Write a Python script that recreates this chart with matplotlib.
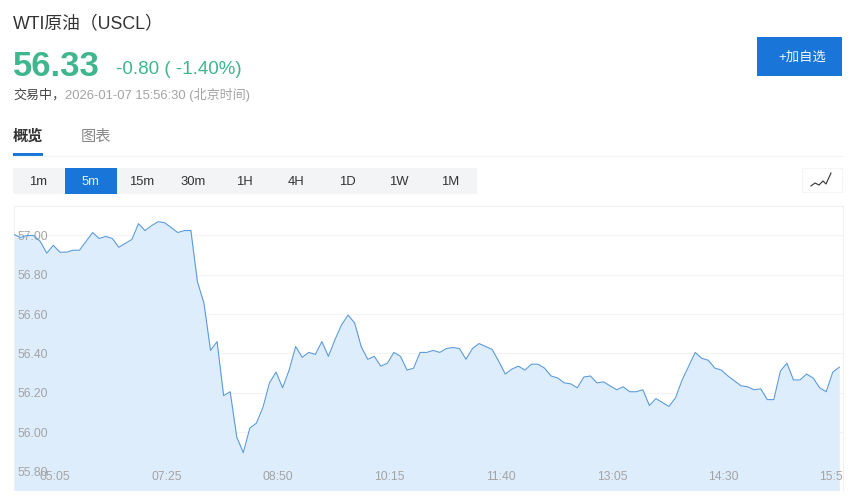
import matplotlib
matplotlib.use('Agg')
import matplotlib.pyplot as plt
import numpy as np
from matplotlib.patches import Rectangle

plt.rcParams['font.family'] = ['Liberation Sans', 'Noto Sans CJK SC']

PRICES = [
    57.005, 56.99, 57.00, 57.00, 56.97, 56.91, 56.95, 56.915, 56.915, 56.925,
    56.925, 56.97, 57.015, 56.985, 56.995, 56.985, 56.94, 56.96, 56.98, 57.06,
    57.025, 57.05, 57.07, 57.065, 57.04, 57.015, 57.025, 57.025, 56.765, 56.655,
    56.415, 56.46, 56.185, 56.205, 55.975, 55.895, 56.02, 56.045, 56.125, 56.25,
    56.305, 56.225, 56.315, 56.435, 56.38, 56.405, 56.395, 56.46, 56.385, 56.47,
    56.545, 56.595, 56.555, 56.435, 56.37, 56.385, 56.335, 56.35, 56.405, 56.385,
    56.315, 56.325, 56.405, 56.405, 56.415, 56.405, 56.425, 56.43, 56.425, 56.37,
    56.425, 56.45, 56.435, 56.42, 56.36, 56.295, 56.32, 56.335, 56.315, 56.345,
    56.345, 56.325, 56.285, 56.275, 56.25, 56.245, 56.225, 56.28, 56.285, 56.25,
    56.255, 56.235, 56.215, 56.23, 56.205, 56.205, 56.215, 56.135, 56.17, 56.15,
    56.13, 56.175, 56.265, 56.335, 56.405, 56.375, 56.365, 56.325, 56.315, 56.285,
    56.26, 56.235, 56.23, 56.215, 56.22, 56.165, 56.165, 56.31, 56.35, 56.265,
    56.265, 56.295, 56.275, 56.225, 56.205, 56.305, 56.33,
]
Y_TICKS = [55.80, 56.00, 56.20, 56.40, 56.60, 56.80, 57.00]
X_TICK_POS = [6.3, 23.3, 40.3, 57.3, 74.3, 91.3, 108.3, 125.3]
X_TICK_LABELS = ['05:05', '07:25', '08:50', '10:15', '11:40', '13:05', '14:30', '15:55']
PERIODS = ['1m', '5m', '15m', '30m', '1H', '4H', '1D', '1W', '1M']
ICON_LINE = [(811, 186), (815, 183), (819, 185), (823, 181), (826, 184), (831, 173)]

W, H = 861, 500
GREEN = '#3fb68e'
BLUE = '#1976d8'
GREY = '#a3a3a3'

fig = plt.figure(figsize=(W / 100, H / 100), dpi=100)

# page furniture, in pixels with the origin at the top left
page = fig.add_axes([0, 0, 1, 1])
page.set_xlim(0, W)
page.set_ylim(H, 0)
page.axis('off')

page.text(13, 24, 'WTI原油（USCL）', fontsize=12.8, color='#333333', va='center')
page.text(12.5, 66, '56.33', fontsize=25, color=GREEN, weight='bold', va='center')
page.text(116, 70, '-0.80 ( -1.40%)', fontsize=13.5, color=GREEN, va='center')
page.text(13, 95, '交易中，', fontsize=9.4, color='#444444', va='center')
page.text(65, 95, '2026-01-07 15:56:30 (北京时间)', fontsize=9.4, color=GREY, va='center')

page.text(13, 137, '概览', fontsize=11, color='#333333', weight='bold', va='center')
page.text(81, 137, '图表', fontsize=11, color='#888888', va='center')
page.plot([13, 843], [156, 156], color='#f4f4f4', lw=0.8)
page.add_patch(Rectangle((13, 153), 30, 2.5, color=BLUE, lw=0))

page.add_patch(Rectangle((757, 37), 85, 38.5, color=BLUE, lw=0))
page.text(802, 57.5, '+加自选', fontsize=9.6, color='#f2f7fd', ha='center', va='center')

page.add_patch(Rectangle((13, 168), 464, 26, color='#f3f4f6', lw=0))
page.add_patch(Rectangle((65, 168), 51.5, 26, color=BLUE, lw=0))
for i, period in enumerate(PERIODS):
    color = '#e8f1fb' if period == '5m' else '#333333'
    page.text(38.5 + 51.5 * i, 182, period, fontsize=9.4, color=color, ha='center', va='center')

page.add_patch(Rectangle((802, 168), 40, 24, facecolor='white', edgecolor='#f5f5f5', lw=0.8))
page.plot(*zip(*ICON_LINE), color='#333333', lw=0.8)

# price chart
left, right, top, bottom = 13.5, 843, 206, 490
ax = fig.add_axes([left / W, 1 - bottom / H, (right - left) / W, (bottom - top) / H])
x = np.arange(len(PRICES))
ax.set_xlim(-0.08, 126.56)
ax.set_ylim(55.705, 57.15)
ax.hlines(Y_TICKS, -0.08, 126.56, color='#f3f3f3', lw=0.8, zorder=1)
ax.fill_between(x, PRICES, 55.0, color='#deedfc', lw=0, zorder=2)
ax.plot(x, PRICES, color='#5c9bdb', lw=0.8, zorder=3)

ax.set_axisbelow(False)
ax.set_yticks(Y_TICKS)
ax.set_yticklabels(['%.2f' % v for v in Y_TICKS], ha='left')
ax.set_xticks(X_TICK_POS)
ax.set_xticklabels(X_TICK_LABELS)
ax.tick_params(axis='y', length=0, pad=-3.2, labelsize=8.7, labelcolor=GREY)
ax.tick_params(axis='x', length=0, pad=-14, labelsize=8.7, labelcolor=GREY)
for label in ax.get_xticklabels():
    label.set_clip_on(True)
    label.set_clip_box(ax.bbox)
for side in ax.spines:
    ax.spines[side].set_color('#f1f1f1')
    ax.spines[side].set_linewidth(0.8)
ax.spines['bottom'].set_visible(False)

plt.savefig('out.png', dpi=100)
